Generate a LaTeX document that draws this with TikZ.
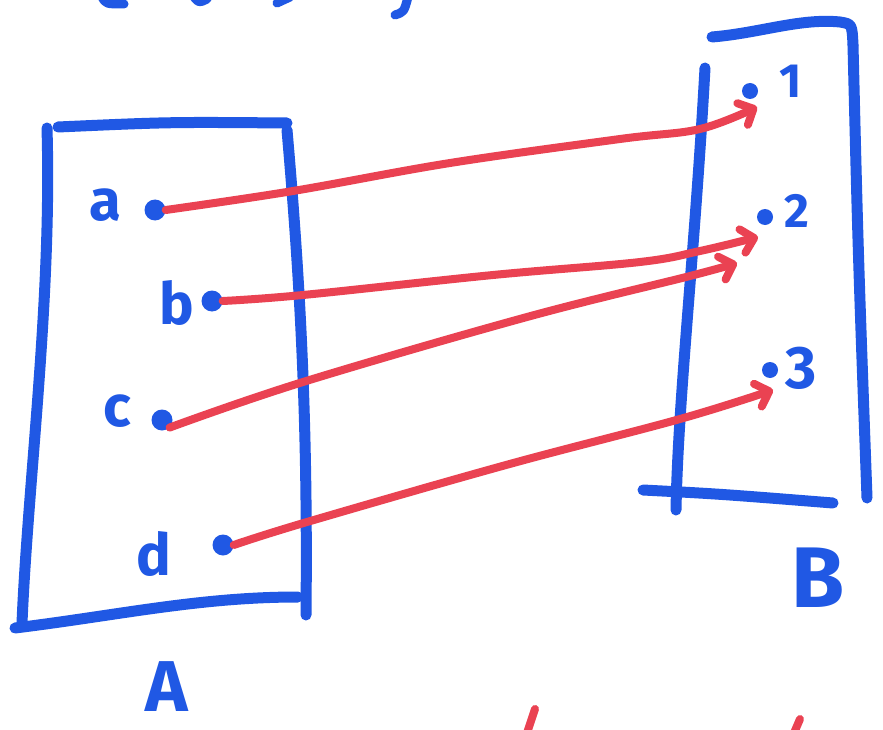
\documentclass[tikz,border=0pt]{standalone}
\usepackage{fontspec}
\setmainfont{Fira Sans}
\usetikzlibrary{arrows.meta}
\definecolor{penblue}{RGB}{32,88,228}
\definecolor{penred}{RGB}{234,66,82}
\tikzset{
  blueline/.style={draw=penblue,line width=11pt,line cap=round,line join=round},
  redarrow/.style={draw=penred,line width=8pt,line cap=round,line join=round,
     -{Straight Barb[length=12pt,width=24pt,round]}},
  redmark/.style={draw=penred,line width=8pt,line cap=round},
  dotA/.style={circle,fill=penblue,inner sep=0pt,minimum size=21pt},
  dotB/.style={circle,fill=penblue,inner sep=0pt,minimum size=16pt},
  lbl/.style={text=penblue,inner sep=0pt,font=\bfseries\fontsize{58}{58}\selectfont},
  numlbl/.style={text=penblue,inner sep=0pt,font=\bfseries\fontsize{48}{48}\selectfont},
  setlbl/.style={text=penblue,inner sep=0pt,font=\bfseries\fontsize{72}{72}\selectfont}
}
\begin{document}
\begin{tikzpicture}[x=1pt,y=-1pt]
\useasboundingbox[fill=white] (0,0) rectangle (883,730);
% partial strokes cut by the top edge
\draw[blueline,line width=9pt] (102,-3) .. controls (106,4) .. (124,4);
\draw[blueline,line width=9pt] (194,-3) .. controls (199,3) .. (207,-1);
\draw[blueline,line width=9pt] (277,3) -- (290,-3);
\draw[blueline,line width=9pt] (408,-3) .. controls (404,12) .. (395,15);
% set A
\draw[blueline] (58,127) .. controls (170,122) .. (287,123);
\draw[blueline] (47,128) .. controls (52,300) and (28,480) .. (22,623);
\draw[blueline] (15,628) .. controls (120,615) and (200,597) .. (298,597);
\draw[blueline] (287,130) .. controls (300,280) and (308,420) .. (306,615);
% set B
\draw[blueline] (712,37) .. controls (760,33) and (800,18) .. (840,22) .. controls (852,24) .. (853,45);
\draw[blueline] (853,45) .. controls (858,250) .. (867,498);
\draw[blueline] (705,68) .. controls (695,250) and (678,400) .. (676,510);
\draw[blueline] (643,490) .. controls (720,494) .. (833,503);
% dots of A
\node[dotA] (da) at (155,210) {};
\node[dotA] (db) at (212,301) {};
\node[dotA] (dc) at (162,420) {};
\node[dotA] (dd) at (223,545) {};
% dots of B
\node[dotB] (d1) at (750,91) {};
\node[dotB] (d2) at (765,217) {};
\node[dotB] (d3) at (770,370) {};
% labels
\node[lbl] (la) at (105,205) {a};
\node[lbl] (lb) at (177,303) {b};
\node[lbl] (lc) at (117,411) {c};
\node[lbl] (ld) at (154,554) {d};
\node[numlbl] (l1) at (791,81) {1};
\node[numlbl] (l2) at (797,211) {2};
\node[numlbl,font=\bfseries\fontsize{60}{60}\selectfont] (l3) at (801,368) {3};
\node[setlbl] (lA) at (167,687) {A};
\node[setlbl,font=\bfseries\fontsize{86}{86}\selectfont] (lB) at (818,578) {B};
% arrow ends
\coordinate (t1) at (757,107);
\coordinate (t2) at (758,237);
\coordinate (t3) at (737,263);
\coordinate (t4) at (773,390);
% arrows
\draw[redarrow] plot[smooth,tension=0.6] coordinates {(da.east) (293,191) (450,163) (620,139) (700,129) (t1)};
\draw[redarrow] plot[smooth,tension=0.6] coordinates {(db.east) (303,295) (493,275) (640,262) (700,251) (t2)};
\draw[redarrow] plot[smooth,tension=0.6] coordinates {(dc.south east) (303,382) (527,317) (690,276) (t3)};
\draw[redarrow] plot[smooth,tension=0.6] coordinates {(dd.east) (307,522) (506,465) (680,419) (t4)};
% partial strokes cut by the bottom edge
\draw[redmark] (535,709) -- (527,733);
\draw[redmark] (800,719) -- (794,733);
\end{tikzpicture}
\end{document}
